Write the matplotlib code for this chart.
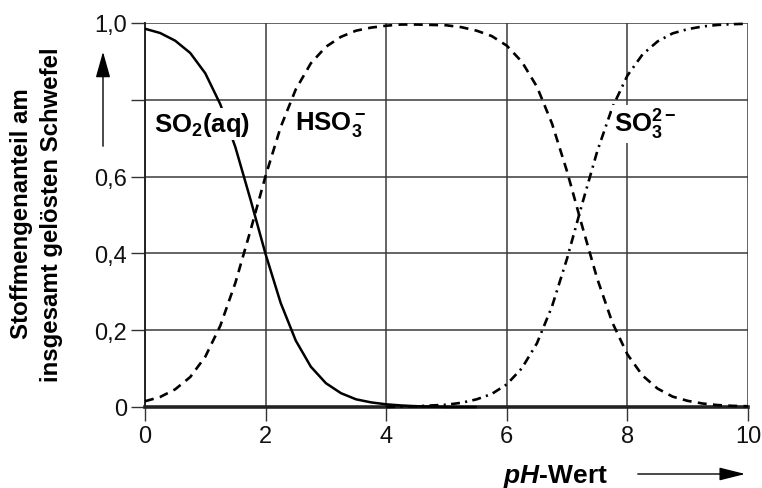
import numpy as np
import matplotlib
matplotlib.use("Agg")
import matplotlib.pyplot as plt

plt.rcParams['font.family'] = ['Liberation Sans', 'DejaVu Sans']
plt.rcParams['mathtext.fontset'] = 'custom'
plt.rcParams['mathtext.rm'] = 'Liberation Sans:bold'
plt.rcParams['mathtext.it'] = 'Liberation Sans:bold:italic'
plt.rcParams['mathtext.bf'] = 'Liberation Sans:bold'

nan = np.nan
ph = [0.0, 0.25, 0.5, 0.75, 1.0, 1.25, 1.5, 1.75, 2.0, 2.25, 2.5, 2.75, 3.0, 3.25, 3.5, 3.75,
      4.0, 4.25, 4.5, 4.75, 5.0, 5.25, 5.5, 5.75, 6.0, 6.25, 6.5, 6.75, 7.0, 7.25, 7.5, 7.75,
      8.0, 8.25, 8.5, 8.75, 9.0, 9.25, 9.5, 9.75, 10.0]
so2 = [0.985, 0.974, 0.954, 0.922, 0.869, 0.788, 0.676, 0.540, 0.398, 0.271, 0.173, 0.105,
       0.062, 0.036, 0.020, 0.012, 0.007, 0.004, 0.002, 0.001, 0.0, 0.0, 0.0,
       nan, nan, nan, nan, nan, nan, nan, nan, nan, nan, nan, nan, nan, nan, nan, nan, nan, nan]
hso3 = [0.015, 0.026, 0.046, 0.078, 0.131, 0.212, 0.324, 0.460, 0.602, 0.729, 0.827, 0.895,
        0.938, 0.964, 0.980, 0.988, 0.993, 0.996, 0.996, 0.995, 0.994, 0.989, 0.980, 0.966,
        0.941, 0.899, 0.834, 0.738, 0.613, 0.471, 0.334, 0.220, 0.137, 0.082, 0.048, 0.027,
        0.016, 0.009, 0.005, 0.003, 0.002]
so3 = [nan, nan, nan, nan, nan, nan, nan, nan, nan, nan, nan, nan, nan, nan, nan, nan,
       0.0, 0.001, 0.002, 0.004, 0.006, 0.011, 0.020, 0.034, 0.059, 0.101, 0.166, 0.262,
       0.387, 0.529, 0.666, 0.780, 0.863, 0.918, 0.952, 0.973, 0.984, 0.991, 0.995, 0.997, 0.998]

xticks = [0, 2, 4, 6, 8, 10]
xticklabels = ['0', '2', '4', '6', '8', '10']
yticks = [0, 0.2, 0.4, 0.6, 0.8, 1.0]
yticklabels = ['0', '0,2', '0,4', '0,6', '', '1,0']

W, H = 762, 489
fig = plt.figure(figsize=(W / 100, H / 100), dpi=100)
ax = fig.add_axes([145 / W, 1 - 408 / H, (748 - 145) / W, (408 - 24) / H])
ax.set_xlim(0, 10)
ax.set_ylim(0, 1)

ax.set_xticks(xticks)
ax.set_xticklabels(xticklabels)
ax.set_yticks(yticks)
ax.set_yticklabels(yticklabels)
ax.tick_params(axis='both', direction='out', length=10, width=1.0, color='#333333',
               labelsize=17, labelcolor='#111111', pad=3)
ax.grid(True, color='#3a3a3a', lw=1.1)
ax.set_axisbelow(True)
for s in ['top', 'right']:
    ax.spines[s].set_visible(False)
ax.spines['left'].set_linewidth(1.4)
ax.spines['left'].set_color('#222222')
ax.spines['bottom'].set_linewidth(2.6)
ax.spines['bottom'].set_color('#222222')

ax.plot(ph, so2, color='black', lw=1.8, solid_capstyle='butt', zorder=3, clip_on=False)
ax.plot(ph, hso3, color='black', lw=1.9, dashes=(3.4, 2.4), zorder=3, clip_on=False)
ax.plot(ph, so3, color='black', lw=1.9, dashes=(3.4, 2.0, 0.8, 2.0), zorder=3, clip_on=False)

bb = dict(facecolor='white', edgecolor='none', pad=1.5)
ax.text(0.95, 0.737, r'$\mathrm{SO_2(aq)}$', fontsize=18.5, ha='center', va='center',
        bbox=bb, zorder=4)
ax.text(3.08, 0.737, r'$\mathrm{HSO_3^-}$', fontsize=18.5, ha='center', va='center',
        bbox=bb, zorder=4)
ax.text(8.3, 0.737, r'$\mathrm{SO_3^{2-}}$', fontsize=18.5, ha='center', va='center',
        bbox=bb, zorder=4)

fig.text(22 / W, 1 - 214 / H, 'Stoffmengenanteil am', rotation=90, ha='center',
         va='center', fontsize=17.3, fontweight='bold')
fig.text(52 / W, 1 - 215 / H, 'insgesamt gelösten Schwefel', rotation=90, ha='center',
         va='center', fontsize=17.3, fontweight='bold')
fig.text(555 / W, 1 - 477 / H, r'$\mathit{pH}$-Wert', ha='center', va='center',
         fontsize=19, fontweight='bold')

fig.patches.append(matplotlib.patches.FancyArrowPatch(
    (635 / W, 1 - 475 / H), (748 / W, 1 - 475 / H), transform=fig.transFigure,
    arrowstyle='-|>,head_length=16,head_width=4', mutation_scale=1, lw=1.0, color='black'))
fig.patches.append(matplotlib.patches.FancyArrowPatch(
    (103 / W, 1 - 150 / H), (103 / W, 1 - 50 / H), transform=fig.transFigure,
    arrowstyle='-|>,head_length=16,head_width=4.5', mutation_scale=1, lw=1.0, color='black'))

fig.savefig('out.png', dpi=100, facecolor='white')
